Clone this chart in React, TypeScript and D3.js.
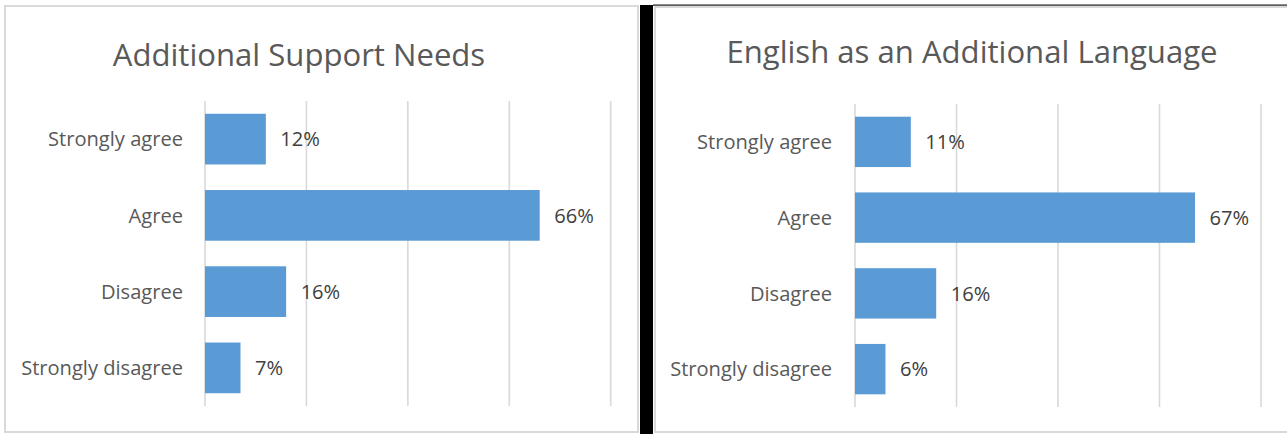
import React from 'react';
import * as d3 from 'd3';

const CATEGORIES = ['Strongly agree', 'Agree', 'Disagree', 'Strongly disagree'];
const ASN_VALUES = [12, 66, 16, 7];
const EAL_VALUES = [11, 67, 16, 6];
const X_TICKS = [0, 20, 40, 60, 80];
const TITLES = ['Additional Support Needs', 'English as an Additional Language'];

const FONT = "'Open Sans', 'Segoe UI', sans-serif";
const BAR = '#5b9bd5';
const GRID = '#d9d9d9';

type PanelProps = {
  title: string;
  values: number[];
  left: number;
  right: number;
  top: number;
  bottom: number;
  titleX: number;
  titleY: number;
  labelX: number;
};

function Panel({ title, values, left, right, top, bottom, titleX, titleY, labelX }: PanelProps) {
  const x = d3.scaleLinear().domain([0, 80]).range([left, right]);
  const y = d3
    .scaleBand<string>()
    .domain(CATEGORIES)
    .range([top, bottom])
    .paddingInner(0.335)
    .paddingOuter(0.1675);
  return (
    <g>
      <text
        x={titleX}
        y={titleY}
        textAnchor="middle"
        fontFamily={FONT}
        fontSize={31.1}
        fill="#595959"
      >
        {title}
      </text>
      {X_TICKS.map((t) => (
        <line key={t} x1={x(t)} x2={x(t)} y1={top} y2={bottom} stroke={GRID} strokeWidth={1.6} />
      ))}
      {CATEGORIES.map((c, i) => {
        const yy = y(c) as number;
        const bw = y.bandwidth();
        return (
          <g key={c}>
            <rect x={x(0)} y={yy} width={x(values[i]) - x(0)} height={bw} fill={BAR} />
            <text
              x={labelX}
              y={yy + bw / 2}
              dy="0.36em"
              textAnchor="end"
              fontFamily={FONT}
              fontSize={20.1}
              fill="#595959"
            >
              {c}
            </text>
            <text
              x={x(values[i]) + 14.5}
              y={yy + bw / 2}
              dy="0.36em"
              textAnchor="start"
              fontFamily={FONT}
              fontSize={20.1}
              fill="#404040"
            >
              {values[i] + '%'}
            </text>
          </g>
        );
      })}
    </g>
  );
}

export default function App() {
  return (
    <svg
      width={1287}
      height={434}
      style={{ position: 'absolute', left: 0, top: 0, display: 'block' }}
    >
      <rect x={0} y={0} width={1287} height={434} fill="#ffffff" />
      {/* left chart frame */}
      <rect x={5} y={6} width={633} height={426} fill="#ffffff" stroke={GRID} strokeWidth={2} />
      {/* divider */}
      <rect x={640} y={5} width={13} height={429} fill="#000000" />
      <rect x={653} y={4.5} width={634} height={1.2} fill="#1a1a1a" />
      {/* right chart frame */}
      <rect x={655} y={7} width={640} height={425} fill="#ffffff" stroke={GRID} strokeWidth={2} />
      <Panel
        title={TITLES[0]}
        values={ASN_VALUES}
        left={205}
        right={610.7}
        top={101}
        bottom={406}
        titleX={299}
        titleY={66}
        labelX={183}
      />
      <Panel
        title={TITLES[1]}
        values={EAL_VALUES}
        left={855}
        right={1261}
        top={104}
        bottom={407}
        titleX={972}
        titleY={63}
        labelX={832}
      />
    </svg>
  );
}
